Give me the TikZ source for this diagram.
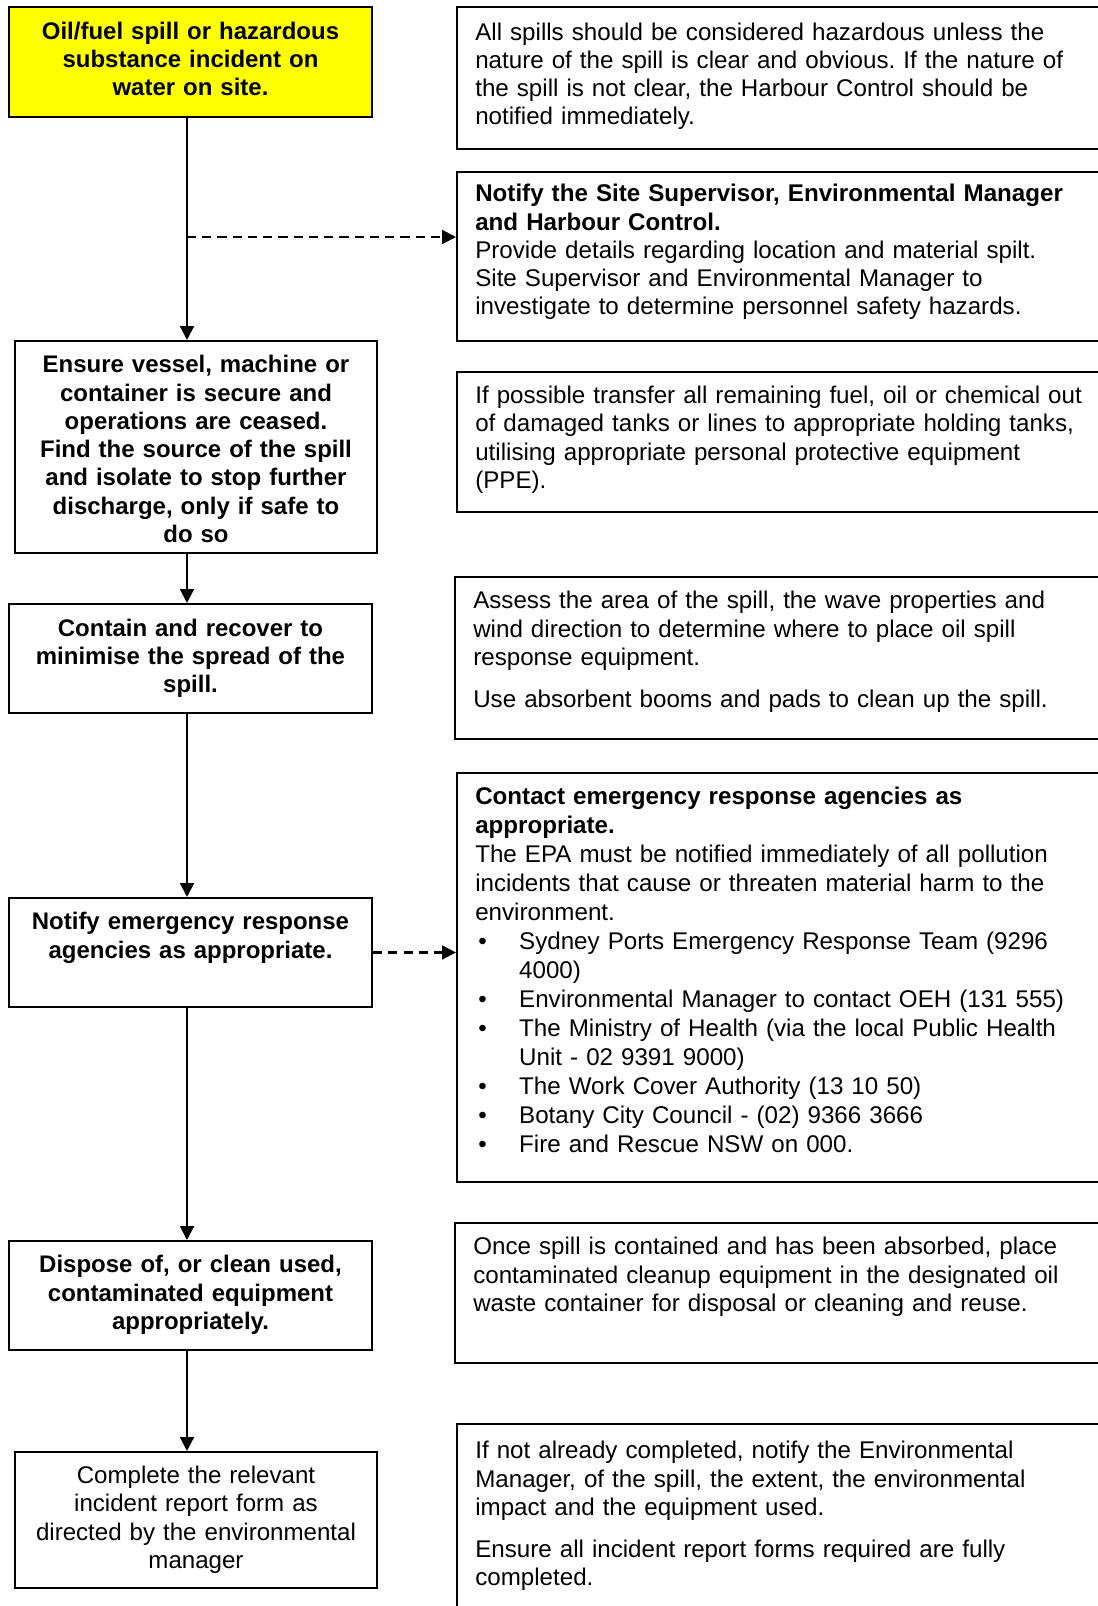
\documentclass[tikz,border=0pt]{standalone}
\usepackage{fontspec}
\setmainfont{Liberation Sans}
\usetikzlibrary{positioning,fit,arrows.meta}
\definecolor{alertfill}{RGB}{255,255,0}
\newcommand{\blt}{\makebox[21.6pt][l]{\hspace*{1.5pt}\textbullet}}
\newcommand{\bltgap}{\hspace*{21.6pt}}
\frenchspacing

\begin{document}
\begin{tikzpicture}[x=0.492pt,y=-0.492pt,
        flow box/.style={draw,line width=1pt,inner sep=0pt},
        note box/.style={draw,line width=1pt,inner sep=0pt},
        flow text/.style={font=\fontsize{11.8}{13.9}\selectfont\bfseries,align=center,text width=176pt,inner sep=0pt},
        plain text/.style={flow text,font=\fontsize{11.85}{13.9}\selectfont},
        note text/.style={font=\fontsize{11.88}{13.9}\selectfont,align=left,text width=320pt,inner sep=0pt},
        flow arrow/.style={draw,line width=1pt,-{Triangle[length=6.8pt,width=6.8pt]}},
        side arrow/.style={flow arrow,dash pattern=on 4.5pt off 3pt}
      ]
      \useasboundingbox (0,0) rectangle (1098,1606);
      \clip (0,0) rectangle (1098,1606);

      % left column: the steps
      \node[flow box,fill=alertfill,fit={(9,7)(372,117)}] (spill) {};
      \node[flow text,below=7.6pt of spill.north] {Oil/fuel spill or hazardous\\substance incident on\\water on site.};

      \node[flow box,fit={(15,341)(377,553)}] (ensure) {};
      \node[flow text,below=7.4pt of ensure.north] {Ensure vessel, machine or\\container is secure and\\operations are ceased.\\Find the source of the spill\\and isolate to stop further\\discharge, only if safe to\\do so};

      \node[flow box,fit={(9,604)(372,713)}] (contain) {};
      \node[flow text,below=7.6pt of contain.north] {Contain and recover to\\minimise the spread of the\\spill.};

      \node[flow box,fit={(9,898)(372,1007)}] (notify) {};
      \node[flow text,below=7.4pt of notify.north] {Notify emergency response\\agencies as appropriate.};

      \node[flow box,fit={(9,1241)(372,1350)}] (dispose) {};
      \node[flow text,below=7.4pt of dispose.north] {Dispose of, or clean used,\\contaminated equipment\\appropriately.};

      \node[flow box,fit={(15,1452)(377,1588)}] (report) {};
      \node[plain text,below=7.2pt of report.north] {Complete the relevant\\incident report form as\\directed by the environmental\\manager};

      % right column: the notes
      \node[note box,fit={(457,7)(1110,149)}] (hazardnote) {};
      \node[note text,below right=8pt and 9.3pt of hazardnote.north west] {All spills should be considered hazardous unless the\\nature of the spill is clear and obvious. If the nature of\\the spill is not clear, the Harbour Control should be\\notified immediately.};

      \node[note box,fit={(457,172)(1110,341)}] (supervisornote) {};
      \node[note text,below right=6.4pt and 9.3pt of supervisornote.north west] {\textbf{Notify the Site Supervisor, Environmental Manager}\\\textbf{and Harbour Control.}\\Provide details regarding location and material spilt.\\Site Supervisor and Environmental Manager to\\investigate to determine personnel safety hazards.};

      \node[note box,fit={(457,372)(1110,512)}] (transfernote) {};
      \node[note text,below right=7.2pt and 9.3pt of transfernote.north west] {If possible transfer all remaining fuel, oil or chemical out\\of damaged tanks or lines to appropriate holding tanks,\\utilising appropriate personal protective equipment\\(PPE).};

      \node[note box,fit={(455,577)(1110,739)}] (assessnote) {};
      \node[note text,below right=7.4pt and 9.3pt of assessnote.north west] {Assess the area of the spill, the wave properties and\\wind direction to determine where to place oil spill\\response equipment.\\[7pt]Use absorbent booms and pads to clean up the spill.};

      \node[note box,fit={(457,773)(1110,1182)}] (agencynote) {};
      \node[note text,font=\fontsize{11.88}{14.27}\selectfont,below right=7.4pt and 9.3pt of agencynote.north west] {\textbf{Contact emergency response agencies as}\\\textbf{appropriate.}\\The EPA must be notified immediately of all pollution\\incidents that cause or threaten material harm to the\\environment.\\
        \blt Sydney Ports Emergency Response Team (9296\\\bltgap 4000)\\
        \blt Environmental Manager to contact OEH (131 555)\\
        \blt The Ministry of Health (via the local Public Health\\\bltgap Unit - 02 9391 9000)\\
        \blt The Work Cover Authority (13 10 50)\\
        \blt Botany City Council - (02) 9366 3666\\
        \blt Fire and Rescue NSW on 000.};

      \node[note box,fit={(455,1223)(1110,1363)}] (wastenote) {};
      \node[note text,below right=7.4pt and 9.3pt of wastenote.north west] {Once spill is contained and has been absorbed, place\\contaminated cleanup equipment in the designated oil\\waste container for disposal or cleaning and reuse.};

      \node[note box,fit={(457,1424)(1110,1620)}] (completenote) {};
      \node[note text,below right=8.9pt and 9.3pt of completenote.north west] {If not already completed, notify the Environmental\\Manager, of the spill, the extent, the environmental\\impact and the equipment used.\\[6.6pt]Ensure all incident report forms required are fully\\completed.};

      % connectors
      \coordinate (trunk) at (187,0);
      \coordinate (tap) at (187,237);
      \draw[flow arrow] (spill.south -| trunk) -- (ensure.north -| trunk);
      \draw[flow arrow] (ensure.south -| trunk) -- (contain.north -| trunk);
      \draw[flow arrow] (contain.south -| trunk) -- (notify.north -| trunk);
      \draw[flow arrow] (notify.south -| trunk) -- (dispose.north -| trunk);
      \draw[flow arrow] (dispose.south -| trunk) -- (report.north -| trunk);
      \draw[side arrow] (tap) -- (tap -| supervisornote.west);
      \draw[side arrow] (notify.east) -- (notify.east -| agencynote.west);
\end{tikzpicture}
\end{document}
